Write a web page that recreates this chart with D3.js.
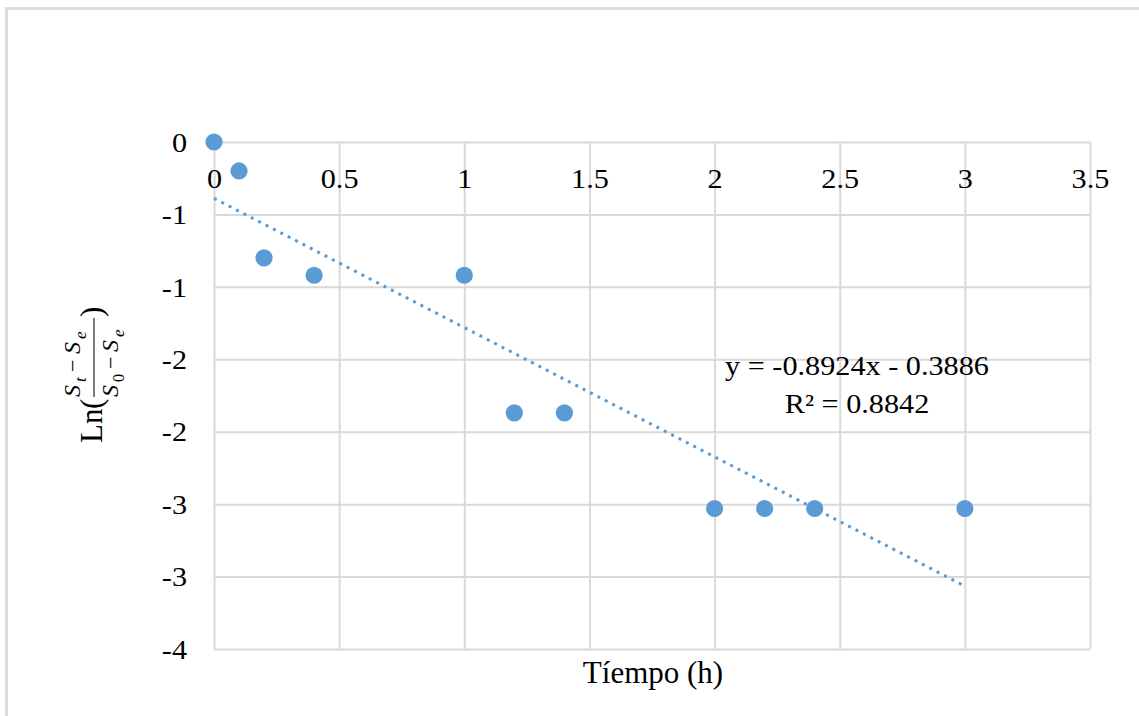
<!DOCTYPE html>
<html><head><meta charset="utf-8">
<script src="https://cdn.jsdelivr.net/npm/d3@7"></script>
<style>body{margin:0;background:#fff}svg{display:block}</style>
</head><body><svg id="c" width="1139" height="716"></svg>
<script>
const xValues = [0, 0.1, 0.2, 0.4, 1, 1.2, 1.4, 2, 2.2, 2.4, 3];
const yValues = [0, -0.2, -0.8, -0.92, -0.92, -1.87, -1.87, -2.53, -2.53, -2.53, -2.53];
const xTicks = [0, 0.5, 1, 1.5, 2, 2.5, 3, 3.5];
const xTickLabels = ["0", "0.5", "1", "1.5", "2", "2.5", "3", "3.5"];
const yTicks = [0, -0.5, -1, -1.5, -2, -2.5, -3, -3.5];
const yTickLabels = ["0", "-1", "-1", "-2", "-2", "-3", "-3", "-4"];
const trendSlope = -0.8924, trendIntercept = -0.3886;
const trendRange = [0, 3];
const eqLines = ["y = -0.8924x - 0.3886", "R\u00B2 = 0.8842"];
const xTitle = "T\u00EDempo (h)";

const svg = d3.select("#c");
const M = {l: 214, r: 1090, t: 142, b: 649};
const x = d3.scaleLinear().domain([0, 3.5]).range([M.l, M.r]);
const y = d3.scaleLinear().domain([0, -3.5]).range([M.t, M.b]);
const grid = "#d9d9d9";
const blue = "#5b9bd5";
const serif = "'Liberation Serif','Times New Roman',serif";
const SX = 1.12;

svg.append("rect").attr("x", 6.5).attr("y", 8.5).attr("width", 1200).attr("height", 800)
  .attr("fill", "none").attr("stroke", "#dcdcdc").attr("stroke-width", 3);

// gridlines
const gx = svg.append("g").attr("transform", `translate(0,${M.t})`)
  .call(d3.axisBottom(x).tickValues(xTicks).tickSize(M.b - M.t).tickFormat(""));
gx.select(".domain").remove();
gx.selectAll("line").attr("stroke", grid).attr("stroke-width", 2);
const gy = svg.append("g").attr("transform", `translate(${M.l},0)`)
  .call(d3.axisRight(y).tickValues(yTicks).tickSize(M.r - M.l).tickFormat(""));
gy.select(".domain").remove();
gy.selectAll("line").attr("stroke", grid).attr("stroke-width", 2);

// y tick labels
const ay = svg.append("g").attr("transform", `translate(${M.l},0)`)
  .call(d3.axisLeft(y).tickValues(yTicks).tickSize(0).tickFormat((d, i) => yTickLabels[i]));
ay.select(".domain").remove();
ay.selectAll("text").attr("x", 0).attr("dy", "0.34em")
  .attr("transform", `translate(-27,0) scale(${SX},1)`)
  .attr("font-family", serif).attr("font-size", 27).attr("fill", "#000");

// x tick labels
const ax = svg.append("g").attr("transform", `translate(0,${M.t})`)
  .call(d3.axisBottom(x).tickValues(xTicks).tickSize(0).tickFormat((d, i) => xTickLabels[i]));
ax.select(".domain").remove();
ax.selectAll("text").attr("y", 46).attr("dy", 0)
  .attr("transform", `scale(${SX},1)`)
  .attr("font-family", serif).attr("font-size", 27).attr("fill", "#000");

// trendline
svg.append("line")
  .attr("x1", x(trendRange[0])).attr("y1", y(trendSlope * trendRange[0] + trendIntercept))
  .attr("x2", x(trendRange[1])).attr("y2", y(trendSlope * trendRange[1] + trendIntercept))
  .attr("stroke", blue).attr("stroke-width", 3).attr("stroke-dasharray", "3,5.3");

// points
svg.append("g").selectAll("circle").data(xValues).join("circle")
  .attr("cx", d => x(d)).attr("cy", (d, i) => y(yValues[i])).attr("r", 8.6).attr("fill", blue);

// equation
eqLines.forEach((t, i) => {
  svg.append("text").attr("transform", `translate(857,${375 + i * 38}) scale(${SX},1)`)
    .attr("text-anchor", "middle").attr("font-family", serif).attr("font-size", 27)
    .attr("fill", "#000").text(t);
});

// x title
svg.append("text").attr("transform", `translate(653,683)`)
  .attr("text-anchor", "middle").attr("font-family", serif).attr("font-size", 31)
  .attr("fill", "#000").text(xTitle);

// y title (rotated math label)
const yt = svg.append("g").attr("transform", "translate(102,443) rotate(-90)")
  .attr("font-family", serif).attr("fill", "#000");
yt.append("text").attr("x", 0).attr("y", 0).attr("font-size", 31).text("Ln");
yt.append("text").attr("x", 34).attr("y", 0).attr("font-size", 31).text("(");
yt.append("text").attr("x", 126).attr("y", 0).attr("font-size", 31).text(")");
yt.append("line").attr("x1", 46).attr("x2", 125).attr("y1", -8).attr("y2", -8)
  .attr("stroke", "#444").attr("stroke-width", 1.4);
const part = (t, lx, ly, fs, it) => yt.append("text").attr("x", lx).attr("y", ly)
  .attr("font-size", fs).attr("font-style", it ? "italic" : "normal").text(t);
// numerator
part("S", 46, -22, 24, true);
part("t", 61, -16, 17, true);
part("\u2212", 71, -22, 22, false);
part("S", 89, -22, 24, true);
part("e", 104, -16, 17, true);
// denominator
part("S", 46, 16, 24, true);
part("0", 61, 22, 16, false);
part("\u2212", 74, 16, 22, false);
part("S", 91, 16, 24, true);
part("e", 106, 22, 17, true);
</script></body></html>
